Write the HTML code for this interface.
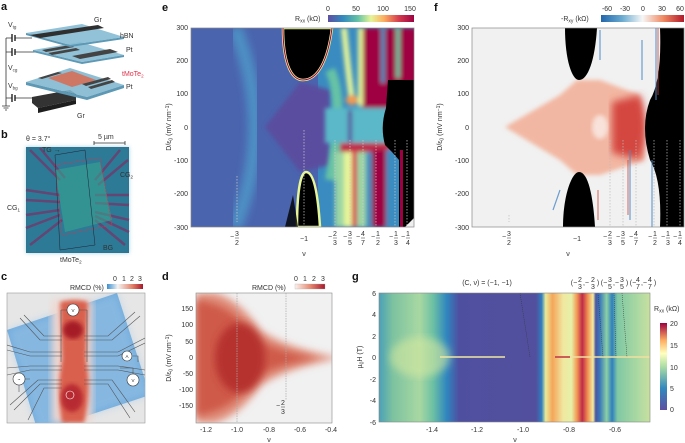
<!DOCTYPE html>
<html><head><meta charset="utf-8"><style>
body{margin:0;background:#fff}
svg{display:block;font-family:"Liberation Sans",sans-serif}
.t{font-size:7px;fill:#333}
.L{font-size:11px;font-weight:bold;fill:#111}
</style></head><body>
<svg width="685" height="443" viewBox="0 0 685 443" xmlns="http://www.w3.org/2000/svg">
<defs>
<linearGradient id="cbE" x1="0" x2="1"><stop offset="0" stop-color="#5e4fa2"/><stop offset=".17" stop-color="#3288bd"/><stop offset=".35" stop-color="#66c2a5"/><stop offset=".5" stop-color="#e6f598"/><stop offset=".65" stop-color="#fdae61"/><stop offset=".82" stop-color="#d53e4f"/><stop offset="1" stop-color="#9e0142"/></linearGradient>
<linearGradient id="cbF" x1="0" x2="1"><stop offset="0" stop-color="#2166ac"/><stop offset=".25" stop-color="#67a9cf"/><stop offset=".5" stop-color="#f7f7f7"/><stop offset=".75" stop-color="#ef8a62"/><stop offset="1" stop-color="#b2182b"/></linearGradient>
<linearGradient id="cbC" x1="0" x2="1"><stop offset="0" stop-color="#3a8fd0"/><stop offset=".3" stop-color="#f3f3f3"/><stop offset=".7" stop-color="#e3826a"/><stop offset="1" stop-color="#a8182b"/></linearGradient>
<linearGradient id="cbD" x1="0" x2="1"><stop offset="0" stop-color="#fbf2ee"/><stop offset=".5" stop-color="#e68a72"/><stop offset="1" stop-color="#a8182b"/></linearGradient>
<linearGradient id="cbG" x1="0" x2="0" y1="1" y2="0"><stop offset="0" stop-color="#5e4fa2"/><stop offset=".25" stop-color="#3288bd"/><stop offset=".5" stop-color="#abdda4"/><stop offset=".65" stop-color="#ffffbf"/><stop offset=".8" stop-color="#fdae61"/><stop offset="1" stop-color="#9e0142"/></linearGradient>
<linearGradient id="gG" x1="379" x2="650" gradientUnits="userSpaceOnUse">
<stop offset="0" stop-color="#4aa0b8"/><stop offset=".05" stop-color="#7cc2a0"/><stop offset=".15" stop-color="#a8d8a2"/><stop offset=".2" stop-color="#6cc0a4"/><stop offset=".25" stop-color="#2f86bf"/><stop offset=".295" stop-color="#4f4fa0"/><stop offset=".58" stop-color="#52509e"/><stop offset=".6" stop-color="#2f7fbf"/><stop offset=".615" stop-color="#e8eb98"/><stop offset=".64" stop-color="#f5a55a"/><stop offset=".68" stop-color="#f0e8a0"/><stop offset=".71" stop-color="#e7f0a8"/><stop offset=".73" stop-color="#f39a55"/><stop offset=".75" stop-color="#c02a48"/><stop offset=".77" stop-color="#f09050"/><stop offset=".79" stop-color="#f4eca0"/><stop offset=".8" stop-color="#4a55a3"/><stop offset=".815" stop-color="#3a78ba"/><stop offset=".84" stop-color="#8cd0a4"/><stop offset=".86" stop-color="#2e7fbe"/><stop offset=".88" stop-color="#80c8a4"/><stop offset=".95" stop-color="#a8d8a2"/><stop offset="1" stop-color="#c8e0a0"/></linearGradient>
<filter id="b1"><feGaussianBlur stdDeviation="1"/></filter>
<filter id="b2"><feGaussianBlur stdDeviation="2"/></filter>
<filter id="b4"><feGaussianBlur stdDeviation="4"/></filter>
<clipPath id="cE"><rect x="191" y="28" width="223" height="199"/></clipPath>
<clipPath id="cF"><rect x="472" y="28" width="212" height="199"/></clipPath>
<clipPath id="cD"><rect x="196" y="293" width="136" height="130"/></clipPath>
<clipPath id="cC"><rect x="7" y="293" width="138" height="130"/></clipPath>
</defs>

<!-- panel a -->
<text class="L" x="1" y="10">a</text>
<g stroke="#333" stroke-width="0.8" fill="none">
<path d="M6,38 V106 M2,106 h8 M3.5,108 h5 M5,110 h2"/>
<path d="M6,38 H12 M15,38 H32 M6,52 H12 M15,52 H36 M6,98 H12 M15,98 H34"/>
</g>
<g stroke="#222" stroke-width="1.4"><path d="M12,34 v8 M15,35 v6 M12,48 v8 M15,49 v6 M12,94 v8 M15,95 v6"/></g>
<!-- bottom Gr -->
<path d="M32,97 L70,90 L76,94 L76,100 L38,108 L32,103Z" fill="#333"/>
<path d="M38,108 L76,100 V104 L38,113 Z" fill="#1e1e1e"/>
<!-- lower plate -->
<path d="M26,82 L70,68 L124,85 L87,97 Z" fill="#7fb6cf" opacity=".88"/>
<path d="M26,82 L87,97 L124,85 V88 L87,100 L26,85Z" fill="#5d98b4"/>
<path d="M48,78 L72,71 L96,80 L72,87Z" fill="#d96a50" opacity=".85"/>
<path d="M38,78 L58,72 L62,73 L42,79Z M82,84 L108,77 L111,79 L86,86Z M88,87 L112,80 L115,82 L91,89Z" fill="#444"/>
<!-- middle Pt plate -->
<path d="M33,50 L80,42 L124,55 L82,62 Z" fill="#86bbd3" opacity=".9"/>
<path d="M33,50 L82,62 L124,55 V57 L82,64 L33,52Z" fill="#5d98b4"/>
<path d="M42,50 L70,45 L74,47 L46,52Z M48,53 L76,48 L80,50 L52,55Z M72,56 L110,49 L118,52 L80,59Z" fill="#444"/>
<!-- top plate -->
<path d="M26,33 L82,24 L124,37 L70,45 Z" fill="#86bbd3" opacity=".9"/>
<path d="M26,33 L70,45 L124,37 V39 L70,47 L26,35Z" fill="#5d98b4"/>
<path d="M30,35 L98,25 L104,28 L40,38Z" fill="#2f2f2f"/>
<g class="t" font-size="6.5"><text x="94" y="22">Gr</text><text x="120" y="38">hBN</text><text x="126" y="52">Pt</text><text x="122" y="76" fill="#e0304a">tMoTe<tspan font-size="4.5" dy="1.5">2</tspan></text><text x="126" y="89">Pt</text><text x="77" y="118">Gr</text>
<text x="8" y="27">V<tspan font-size="4.5" dy="1.5">tg</tspan></text><text x="8" y="70">V<tspan font-size="4.5" dy="1.5">cg</tspan></text><text x="8" y="88">V<tspan font-size="4.5" dy="1.5">bg</tspan></text></g>

<!-- panel b -->
<text class="L" x="1" y="138">b</text>
<text class="t" x="26" y="141">θ = 3.7°</text><text class="t" x="98" y="139">5 µm</text>
<path d="M94,143 H125 M94,141 v4 M125,141 v4" stroke="#333" stroke-width=".8"/>
<rect x="26" y="147" width="103" height="106" fill="#2e7090"/>
<rect x="26" y="147" width="103" height="106" fill="#2a8aa0" opacity=".4" filter="url(#b2)"/>
<g stroke="#6a3f70" stroke-width="2.5" fill="none" opacity=".9">
<path d="M30,150 L60,180 M40,148 L65,178 M120,150 L95,180 M128,160 L98,185 M26,190 L60,195 M26,200 L60,202 M26,215 L60,210 M26,228 L60,215 M30,245 L62,220 M129,195 L95,195 M129,205 L95,203 M129,220 L95,212 M125,245 L95,220 M129,232 L95,216"/>
</g>
<path d="M55,170 L100,162 L112,220 L65,232 Z" fill="#3aa890" opacity=".55"/>
<path d="M55,165 L100,158 L112,225 L62,235 Z" stroke="#e0304a" stroke-width=".6" stroke-dasharray="2,1" fill="none"/>
<path d="M55,155 L85,150 L95,245 L60,250 Z" stroke="#223" stroke-width=".5" fill="none"/>
<g class="t" fill="#111"><text x="42" y="152">TG →</text><text x="120" y="177">CG<tspan font-size="4.5" dy="1.5">2</tspan></text><text x="7" y="210">CG<tspan font-size="4.5" dy="1.5">1</tspan></text><text x="103" y="250">BG</text></g>
<text class="t" x="60" y="262" fill="#e0304a">tMoTe<tspan font-size="4.5" dy="1.5">2</tspan></text>

<!-- panel e -->
<text class="L" x="162" y="11">e</text>
<g clip-path="url(#cE)">
<rect x="191" y="28" width="223" height="199" fill="#4a64ae"/>
<path d="M235,28 Q275,127 235,227" stroke="#4d8fc4" stroke-width="14" fill="none" filter="url(#b4)"/>
<rect x="318" y="28" width="100" height="199" fill="#3a8cc0"/>
<path d="M265,127 L300,82 L330,90 L330,165 L300,172 Z" fill="#5a4d9f" filter="url(#b2)"/>
<g filter="url(#b2)">
<path d="M330,70 Q345,100 330,180" stroke="#66c2a5" stroke-width="10" fill="none"/>
<path d="M344,28 Q348,70 352,100" stroke="#e6f598" stroke-width="6" fill="none"/>
<ellipse cx="352" cy="100" rx="6" ry="5" fill="#f39a55"/>
<rect x="362" y="28" width="56" height="80" fill="#9e0142"/>
<rect x="358" y="28" width="5" height="78" fill="#e6f598"/>
<rect x="381" y="28" width="4" height="55" fill="#3a8cc0"/><rect x="396" y="28" width="4" height="50" fill="#66c2a5"/>
<path d="M325,108 H388 V143 H325Z" fill="#5ab8c8"/>
<rect x="348" y="110" width="4" height="32" fill="#5a4d9f"/>
<rect x="340" y="143" width="50" height="9" fill="#c02a48"/>
<path d="M335,152 H390 V227 H335Z" fill="#9cd6a4"/>
<rect x="344" y="152" width="8" height="75" fill="#e6f598"/>
<rect x="352" y="150" width="5" height="77" fill="#d53e4f"/>
<rect x="366" y="152" width="6" height="75" fill="#3a8cc0"/>
<rect x="372" y="150" width="14" height="77" fill="#9e0142"/>
<rect x="386" y="150" width="12" height="77" fill="#3a8cc0"/>
</g>
<path d="M388,80 L414,80 V227 H399 L399,160 L392,152 L385,145 Q380,127 386,108 Z" fill="#000"/>
<rect x="400" y="150" width="3" height="77" fill="#9e0142"/>
<path d="M283,28 C283,60 290,80 303,80 C318,80 328,60 332,28 Z" fill="#000" stroke="#e6f598" stroke-width="2.5"/>
<path d="M283,28 C283,60 290,80 303,80 C318,80 328,60 332,28" fill="none" stroke="#9e0142" stroke-width="1"/>
<path d="M297,227 C297,195 300,172 306,172 C314,172 318,195 320,227 Z" fill="#000" stroke="#e6f598" stroke-width="2.5"/>
<path d="M285,227 L293,195 L298,227Z" fill="#000" opacity=".8"/>
<path d="M237,176 V222 M304,130 V227 M335,140 V227 M350,140 V227 M363,140 V227 M376,140 V227 M395,140 V227 M407,140 V227" stroke="#ccc" stroke-width=".7" stroke-dasharray="1.5,1.5"/>
<path d="M405,227 L414,218 V227Z" fill="#eee"/>
</g>
<rect x="191" y="28" width="223" height="199" fill="none" stroke="#888" stroke-width=".7"/>
<g class="t" text-anchor="end"><text x="188" y="30">300</text><text x="188" y="63">200</text><text x="188" y="96">100</text><text x="188" y="130">0</text><text x="188" y="163">-100</text><text x="188" y="196">-200</text><text x="188" y="230">-300</text></g>
<text class="t" transform="translate(171,127) rotate(-90)" text-anchor="middle">D/ε<tspan font-size="5" dy="1.5">0</tspan><tspan dy="-1.5"> (mV nm</tspan><tspan font-size="5" dy="-2">−1</tspan><tspan dy="2">)</tspan></text>
<rect x="328" y="15" width="86" height="7" fill="url(#cbE)"/>
<g class="t" text-anchor="middle"><text x="328" y="11">0</text><text x="356" y="11">50</text><text x="383" y="11">100</text><text x="410" y="11">150</text></g>
<text class="t" x="295" y="21">R<tspan font-size="5" dy="1.5">xx</tspan><tspan dy="-1.5"> (kΩ)</tspan></text>
<g class="t" font-size="6.5" text-anchor="middle">
<text x="304" y="241">−1</text><text x="304" y="256">ν</text>
</g>

<!-- panel f -->
<text class="L" x="434" y="11">f</text>
<g clip-path="url(#cF)">
<rect x="472" y="28" width="212" height="199" fill="#f1f1f1"/>
<path d="M505,127 L560,95 L577,80 L600,80 L640,95 L645,160 L600,175 L577,175 L560,160 Z" fill="#f2b7a2" filter="url(#b2)"/>
<ellipse cx="600" cy="127" rx="8" ry="12" fill="#f8e2da" filter="url(#b2)"/>
<path d="M612,102 L640,95 Q652,127 640,160 L612,153 Z" fill="#d4473f" filter="url(#b4)"/>
<path d="M565,28 C565,60 572,80 579,80 C588,80 595,60 597,28 Z" fill="#000"/>
<path d="M563,227 C563,195 572,172 579,172 C588,172 593,195 595,227 Z" fill="#000"/>
<path d="M660,28 H684 V227 H660 Q662,180 650,160 Q640,127 650,100 Q662,80 660,28 Z" fill="#000"/>
<path d="M656,28 V100 M652,160 V227 M630,150 V220 M560,190 L553,210 M600,30 V60 M642,40 V80" stroke="#4a8ac8" stroke-width="1.2" opacity=".8"/>
<path d="M658,28 V95 M628,160 V215 M598,190 V220" stroke="#d04030" stroke-width="1" opacity=".8"/>
<path d="M509,215 V222 M610,140 V227 M623,140 V227 M636,140 V227 M654,140 V227 M667,140 V227 M680,140 V227" stroke="#bbb" stroke-width=".7" stroke-dasharray="1.5,1.5"/>
</g>
<rect x="472" y="28" width="212" height="199" fill="none" stroke="#888" stroke-width=".7"/>
<g class="t" text-anchor="end"><text x="469" y="30">300</text><text x="469" y="63">200</text><text x="469" y="96">100</text><text x="469" y="130">0</text><text x="469" y="163">-100</text><text x="469" y="196">-200</text><text x="469" y="230">-300</text></g>
<text class="t" transform="translate(442,127) rotate(-90)" text-anchor="middle">D/ε<tspan font-size="5" dy="1.5">0</tspan><tspan dy="-1.5"> (mV nm</tspan><tspan font-size="5" dy="-2">−1</tspan><tspan dy="2">)</tspan></text>
<rect x="601" y="15" width="83" height="7" fill="url(#cbF)"/>
<g class="t" text-anchor="middle"><text x="607" y="11">-60</text><text x="625" y="11">-30</text><text x="643" y="11">0</text><text x="662" y="11">30</text><text x="680" y="11">60</text></g>
<text class="t" x="561" y="21">-R<tspan font-size="5" dy="1.5">xy</tspan><tspan dy="-1.5"> (kΩ)</tspan></text>
<g class="t" font-size="6.5" text-anchor="middle"><text x="577" y="241">−1</text><text x="568" y="256">ν</text></g>

<!-- fractions e & f -->
<g class="t" font-size="6.5" text-anchor="middle" stroke-width=".5">
<g transform="translate(237,236)"><text x="-5" y="3">−</text><text>3</text><text y="9">2</text><path d="M-2,2 H2" stroke="#333"/></g>
<g transform="translate(335,236)"><text x="-5" y="3">−</text><text>2</text><text y="9">3</text><path d="M-2,2 H2" stroke="#333"/></g>
<g transform="translate(350,236)"><text x="-5" y="3">−</text><text>3</text><text y="9">5</text><path d="M-2,2 H2" stroke="#333"/></g>
<g transform="translate(363,236)"><text x="-5" y="3">−</text><text>4</text><text y="9">7</text><path d="M-2,2 H2" stroke="#333"/></g>
<g transform="translate(378,236)"><text x="-5" y="3">−</text><text>1</text><text y="9">2</text><path d="M-2,2 H2" stroke="#333"/></g>
<g transform="translate(396,236)"><text x="-5" y="3">−</text><text>1</text><text y="9">3</text><path d="M-2,2 H2" stroke="#333"/></g>
<g transform="translate(408,236)"><text x="-5" y="3">−</text><text>1</text><text y="9">4</text><path d="M-2,2 H2" stroke="#333"/></g>
<g transform="translate(509,236)"><text x="-5" y="3">−</text><text>3</text><text y="9">2</text><path d="M-2,2 H2" stroke="#333"/></g>
<g transform="translate(610,236)"><text x="-5" y="3">−</text><text>2</text><text y="9">3</text><path d="M-2,2 H2" stroke="#333"/></g>
<g transform="translate(623,236)"><text x="-5" y="3">−</text><text>3</text><text y="9">5</text><path d="M-2,2 H2" stroke="#333"/></g>
<g transform="translate(636,236)"><text x="-5" y="3">−</text><text>4</text><text y="9">7</text><path d="M-2,2 H2" stroke="#333"/></g>
<g transform="translate(655,236)"><text x="-5" y="3">−</text><text>1</text><text y="9">2</text><path d="M-2,2 H2" stroke="#333"/></g>
<g transform="translate(668,236)"><text x="-5" y="3">−</text><text>1</text><text y="9">3</text><path d="M-2,2 H2" stroke="#333"/></g>
<g transform="translate(680,236)"><text x="-5" y="3">−</text><text>1</text><text y="9">4</text><path d="M-2,2 H2" stroke="#333"/></g>
</g>

<!-- panel c -->
<text class="L" x="1" y="280">c</text>
<rect x="7" y="293" width="138" height="130" fill="#e6e6e6" stroke="#999" stroke-width=".6"/>
<g clip-path="url(#cC)">
<path d="M7,330 L117,293 L150,395 L38,432 Z" fill="#6fa9da"/>
<path d="M7,330 L117,293 L150,395 L38,432 Z" fill="#9cc6e8" opacity=".5" filter="url(#b4)"/>
<rect x="52" y="300" width="40" height="123" fill="#f0d8d0" filter="url(#b4)"/>
<path d="M60,302 Q75,298 88,302 L86,360 Q92,390 84,423 L62,423 Q56,390 62,360 Z" fill="#d9604e" filter="url(#b2)"/>
<ellipse cx="73" cy="330" rx="10" ry="9" fill="#a51a28" filter="url(#b2)"/>
<ellipse cx="72" cy="398" rx="11" ry="14" fill="#b82a30" filter="url(#b2)"/>
<g stroke="#555" stroke-width=".6" fill="none">
<path d="M20,318 L40,340 H62 M24,315 L44,336 H62 M7,345 L30,352 H62 M7,350 L30,356 H62 M7,368 L30,366 H62 M7,375 L30,370 H62 M10,405 L38,380 H62 M14,410 L40,384 H62 M28,420 L44,388 H62 M135,312 L108,336 H84 M140,316 L112,340 H84 M145,338 L118,352 H84 M145,343 L118,356 H84 M145,370 L118,366 H84 M145,375 L118,370 H84 M130,418 L108,384 H84 M135,412 L112,380 H84"/>
<path d="M61,310 V362 M87,310 V362 M61,310 H67 M79,310 H87"/>
<path d="M25,379 H30 M19,385 V392 M133,356 H138 V362 M133,374 V368 H120"/>
</g>
<g fill="#fff" stroke="#333" stroke-width=".6"><circle cx="73" cy="310" r="6"/><circle cx="127" cy="356" r="5"/><circle cx="133" cy="380" r="6"/><circle cx="19" cy="379" r="6"/></g>
<circle cx="70" cy="395" r="4" fill="none" stroke="#fff" stroke-width=".6"/>
<g font-size="4.5" fill="#222" text-anchor="middle"><text x="73" y="312">V</text><text x="127" y="358">A</text><text x="133" y="382">V</text><text x="19" y="381">~</text></g>
</g>
<rect x="107" y="284" width="36" height="5" fill="url(#cbC)"/>
<g class="t" text-anchor="middle" font-size="6.5"><text x="115" y="281">0</text><text x="124" y="281">1</text><text x="132" y="281">2</text><text x="140" y="281">3</text></g>
<text class="t" x="70" y="290">RMCD (%)</text>

<!-- panel d -->
<text class="L" x="162" y="280">d</text>
<g clip-path="url(#cD)">
<rect x="196" y="293" width="136" height="130" fill="#f1f1f1"/>
<path d="M196,293 L215,293 Q240,300 260,330 Q285,348 340,358 Q285,368 260,386 Q240,415 215,423 L196,423 Z" fill="#e08e7a" filter="url(#b4)"/>
<path d="M196,300 Q235,305 250,335 Q275,352 318,358 Q275,364 250,381 Q235,410 196,416 Z" fill="#cf5a48" filter="url(#b4)"/>
<ellipse cx="240" cy="358" rx="25" ry="35" fill="#b6302e" filter="url(#b4)"/>
<path d="M237,293 V423 M286,293 V400" stroke="#aaa" stroke-width=".7" stroke-dasharray="1.5,1"/>
</g>
<rect x="196" y="293" width="136" height="130" fill="none" stroke="#888" stroke-width=".6"/>
<g class="t" text-anchor="end"><text x="193" y="311">150</text><text x="193" y="327">100</text><text x="193" y="344">50</text><text x="193" y="360">0</text><text x="193" y="376">-50</text><text x="193" y="392">-100</text><text x="193" y="408">-150</text></g>
<g class="t" text-anchor="middle"><text x="206" y="432">-1.2</text><text x="237" y="432">-1.0</text><text x="269" y="432">-0.8</text><text x="300" y="432">-0.6</text><text x="331" y="432">-0.4</text><text x="269" y="442">ν</text></g>
<g class="t" font-size="6.5" text-anchor="middle" transform="translate(283,405)"><text x="-5" y="3">−</text><text>2</text><text y="9">3</text><path d="M-2,2 H2" stroke="#333" stroke-width=".5"/></g>
<text class="t" transform="translate(171,358) rotate(-90)" text-anchor="middle">D/ε<tspan font-size="5" dy="1.5">0</tspan><tspan dy="-1.5"> (mV nm</tspan><tspan font-size="5" dy="-2">−1</tspan><tspan dy="2">)</tspan></text>
<rect x="295" y="284" width="30" height="5" fill="url(#cbD)" stroke="#aaa" stroke-width=".3"/>
<g class="t" text-anchor="middle" font-size="6.5"><text x="296" y="281">0</text><text x="305" y="281">1</text><text x="314" y="281">2</text><text x="323" y="281">3</text></g>
<text class="t" x="252" y="290">RMCD (%)</text>

<!-- panel g -->
<text class="L" x="352" y="280">g</text>
<rect x="379" y="293" width="271" height="129" fill="url(#gG)"/>
<ellipse cx="420" cy="357" rx="30" ry="20" fill="#d4e8a0" opacity=".6" filter="url(#b4)"/>
<path d="M440,357 H505" stroke="#f0e8a0" stroke-width="1.5"/>
<path d="M520,293 L530,357" stroke="#333" stroke-width=".5" stroke-dasharray="1,1"/>
<path d="M555,357 H650" stroke="#f0e0a0" stroke-width="1.5"/>
<path d="M555,357 H570" stroke="#c03040" stroke-width="1.5"/>
<path d="M598,293 L603,357 M614,293 L616,357 M622,293 L627,357" stroke="#333" stroke-width=".5" stroke-dasharray="1,1"/>
<rect x="379" y="293" width="271" height="129" fill="none" stroke="#888" stroke-width=".6"/>
<g class="t" text-anchor="end"><text x="376" y="296">6</text><text x="376" y="317">4</text><text x="376" y="339">2</text><text x="376" y="360">0</text><text x="376" y="382">-2</text><text x="376" y="403">-4</text><text x="376" y="425">-6</text></g>
<g class="t" text-anchor="middle"><text x="432" y="432">-1.4</text><text x="477" y="432">-1.2</text><text x="523" y="432">-1.0</text><text x="569" y="432">-0.8</text><text x="615" y="432">-0.6</text><text x="515" y="442">ν</text></g>
<text class="t" transform="translate(362,357) rotate(-90)" text-anchor="middle">µ<tspan font-size="5" dy="1.5">0</tspan><tspan dy="-1.5">H (T)</tspan></text>
<text class="t" x="487" y="285" text-anchor="middle" font-size="6.5">(C, ν) = (−1, −1)</text>
<g class="t" font-size="6" text-anchor="middle">
<text x="574" y="285">(−</text><text x="580" y="282">2</text><text x="580" y="289">3</text><text x="586" y="285">,−</text><text x="593" y="282">2</text><text x="593" y="289">3</text><text x="598" y="285">)</text>
<text x="604" y="285">(−</text><text x="610" y="282">3</text><text x="610" y="289">5</text><text x="616" y="285">,−</text><text x="622" y="282">3</text><text x="622" y="289">5</text><text x="627" y="285">)</text>
<text x="633" y="285">(−</text><text x="638" y="282">4</text><text x="638" y="289">7</text><text x="644" y="285">,−</text><text x="650" y="282">4</text><text x="650" y="289">7</text><text x="655" y="285">)</text>
</g>
<text class="t" x="654" y="311">R<tspan font-size="5" dy="1.5">xx</tspan><tspan dy="-1.5"> (kΩ)</tspan></text>
<rect x="660" y="323" width="7" height="87" fill="url(#cbG)"/>
<g class="t" font-size="6.5"><text x="670" y="326">20</text><text x="670" y="348">15</text><text x="670" y="370">10</text><text x="670" y="391">5</text><text x="670" y="412">0</text></g>
</svg>
</body></html>
